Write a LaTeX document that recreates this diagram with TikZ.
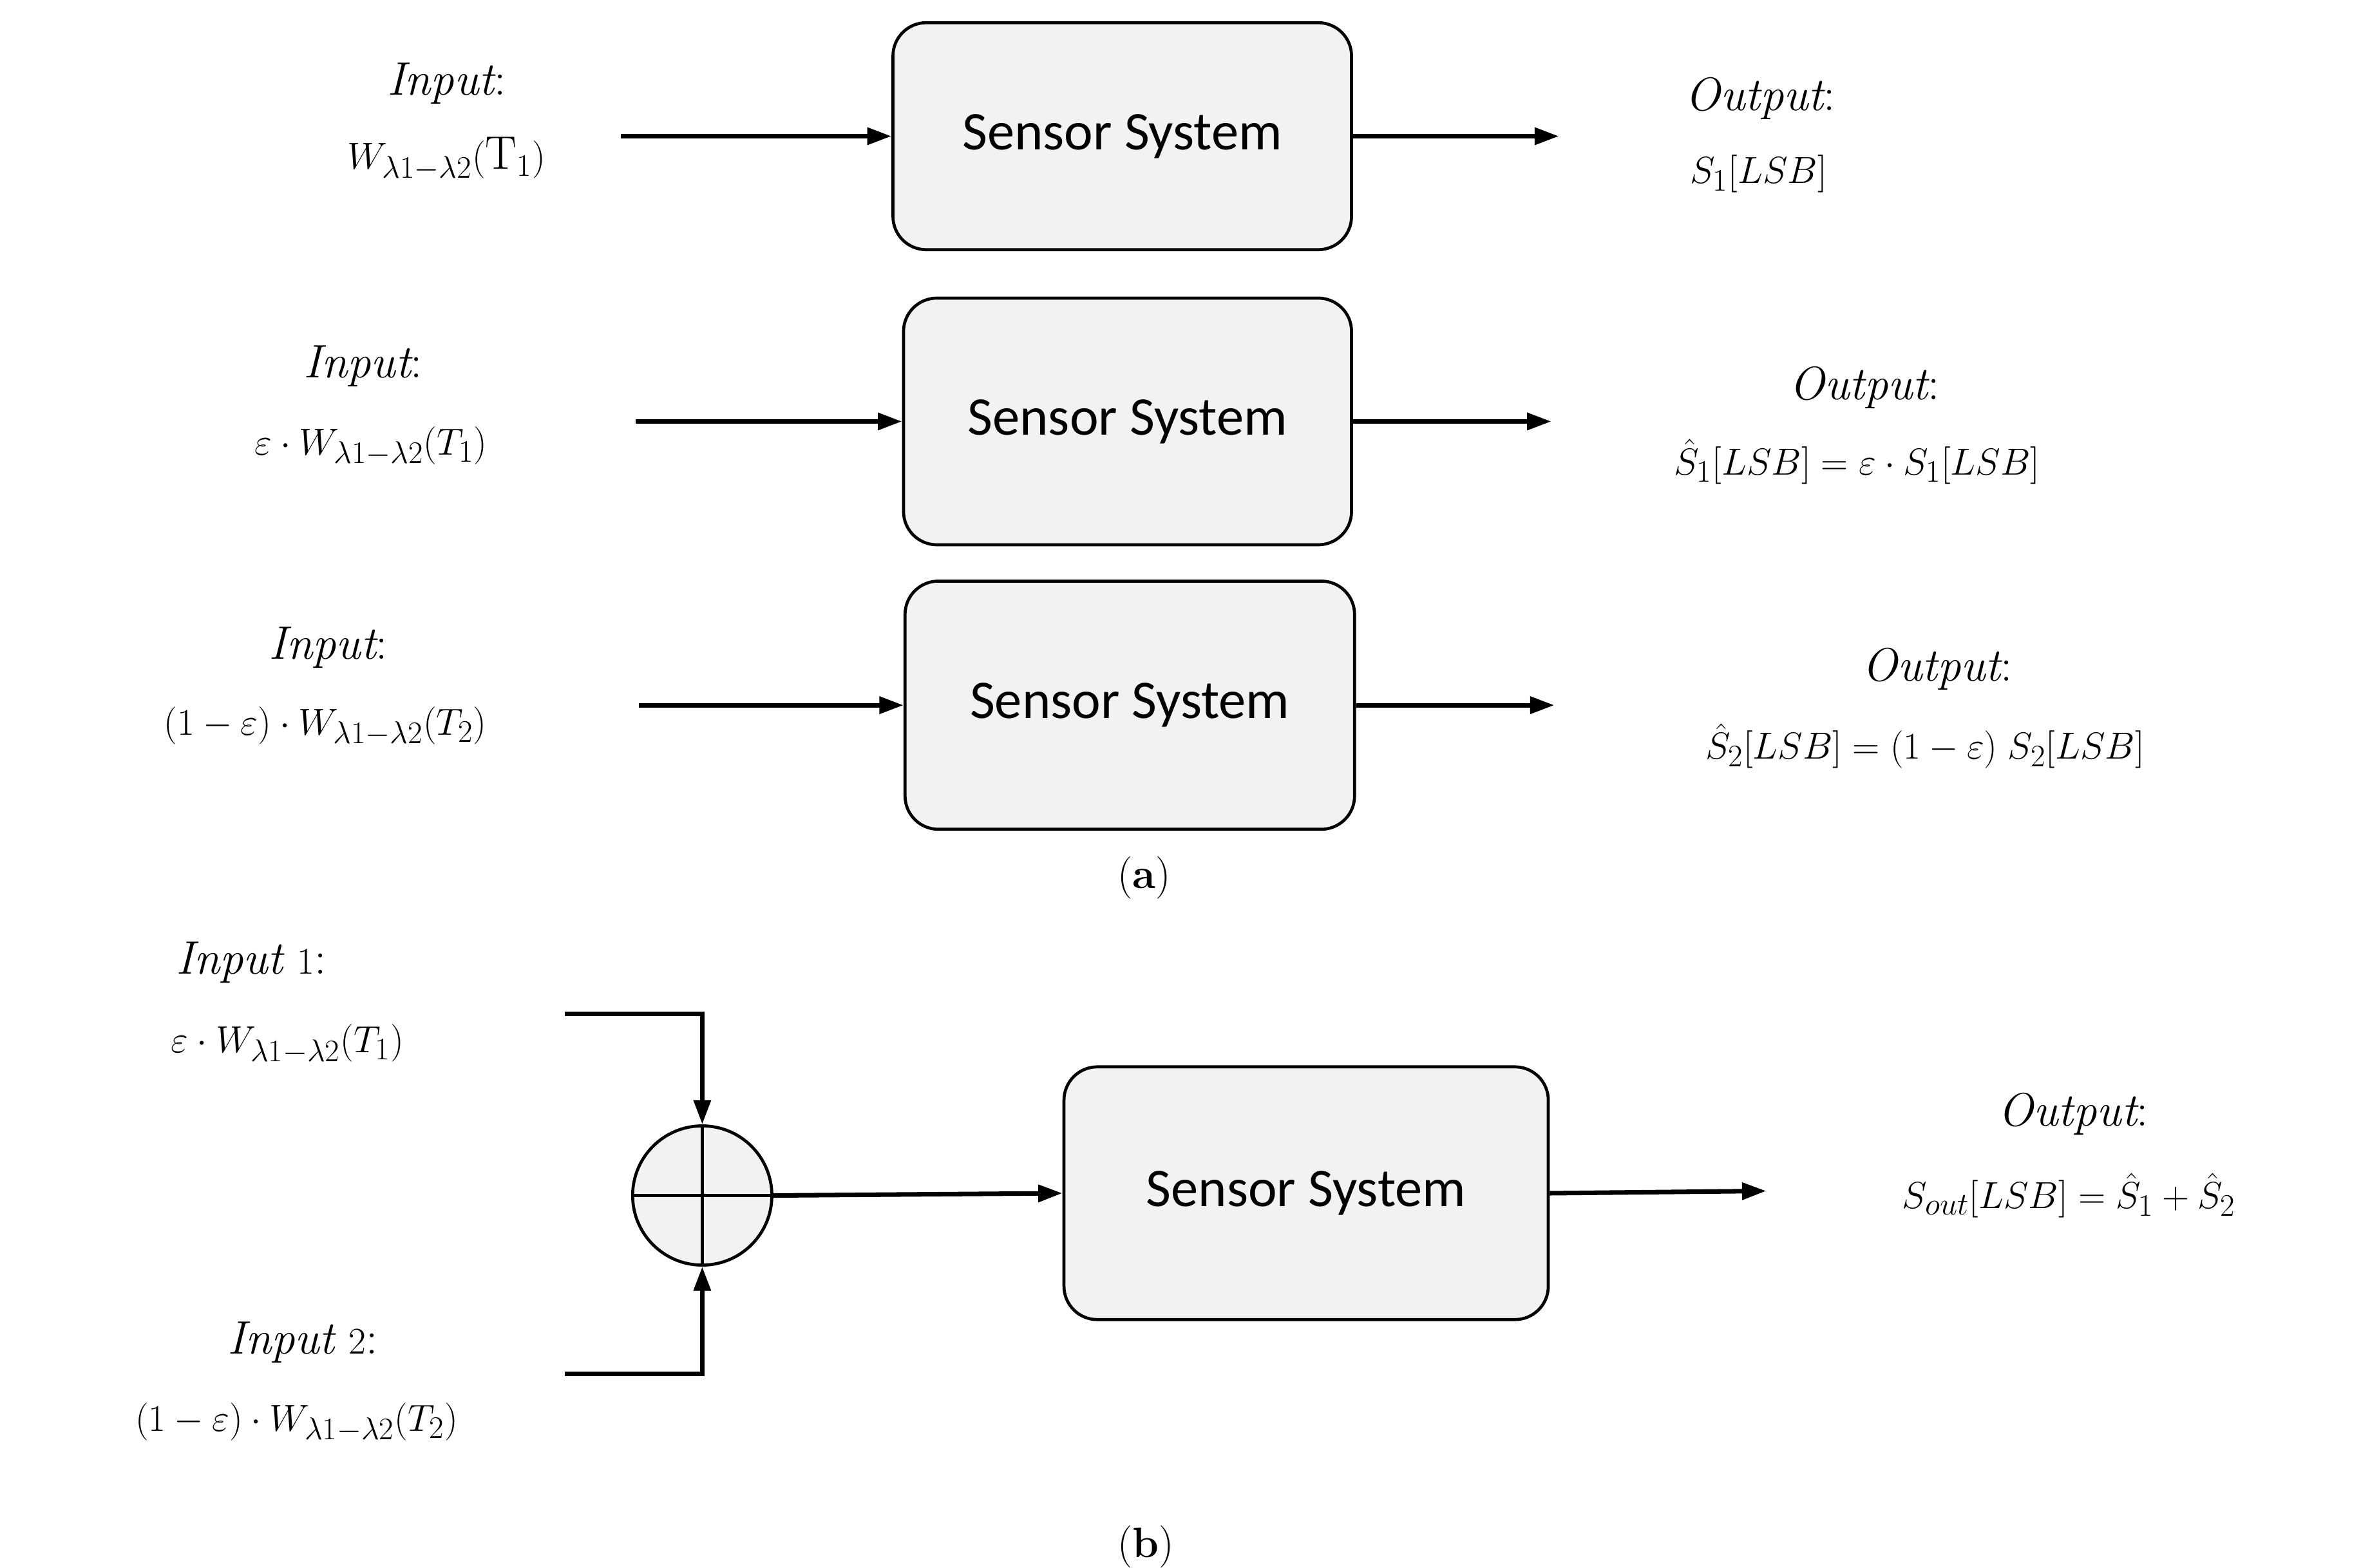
\documentclass[tikz,border=0pt]{standalone}
\usepackage{fontspec}
\usepackage{amsmath}
\newfontfamily\carl{Carlito}
\usetikzlibrary{arrows.meta}
\begin{document}
\begin{tikzpicture}[x=1pt,y=-1pt,
 box/.style={draw,line width=2pt,fill=gray!10,rounded corners=22pt,inner sep=0pt},
 lab/.style={font=\fontsize{31}{36}\selectfont,inner sep=0pt,anchor=center},
 ss/.style={font=\carl\fontsize{36}{40}\selectfont},
 ar/.style={line width=3pt,-{Triangle[length=16pt,width=11pt]}},
 ln/.style={line width=3pt}]
\useasboundingbox (0,0) rectangle (1560,1036);
% row 1
\node[box,minimum width=303pt,minimum height=150pt] (b1) at (741.5,90) {};
\node[ss] at (b1) {Sensor System};
\coordinate (i1) at (410,90);\coordinate (o1) at (1030,90);
\draw[ar] (i1) -- (b1.west);\draw[ar] (b1.east) -- (o1);
\node[lab] (t1a) at (295,55) {$\mathit{Input}$:};
\node[lab] (t1b) at (295,105) {$W_{\lambda1-\lambda2}(\mathrm{T}_1)$};
\node[lab] (u1a) at (1163,65) {$\mathit{Output}$:};
\node[lab] (u1b) at (1162,115) {$S_1[LSB]$};
% row 2
\node[box,minimum width=296pt,minimum height=163pt] (b2) at (745,278.5) {};
\node[ss] at (b2) {Sensor System};
\coordinate (i2) at (420,278.5);\coordinate (o2) at (1025,278.5);
\draw[ar] (i2) -- (b2.west);\draw[ar] (b2.east) -- (o2);
\node[lab] at (240,242) {$\mathit{Input}$:};
\node[lab] at (245,295) {$\varepsilon\cdot W_{\lambda1-\lambda2}(T_1)$};
\node[lab] at (1232,256) {$\mathit{Output}$:};
\node[lab] at (1227,305) {$\hat S_1[LSB]=\varepsilon\cdot S_1[LSB]$};
% row 3
\node[box,minimum width=297pt,minimum height=164pt] (b3) at (746.5,466) {};
\node[ss] at (b3) {Sensor System};
\coordinate (i3) at (422,466);\coordinate (o3) at (1027,466);
\draw[ar] (i3) -- (b3.west);\draw[ar] (b3.east) -- (o3);
\node[lab] at (217,428) {$\mathit{Input}$:};
\node[lab] at (215,480) {$(1-\varepsilon)\cdot W_{\lambda1-\lambda2}(T_2)$};
\node[lab] at (1280,442) {$\mathit{Output}$:};
\node[lab] at (1272,493) {$\hat S_2[LSB]=(1-\varepsilon)\;S_2[LSB]$};
\node[lab,font=\fontsize{28}{32}\selectfont] at (756,580) {(\textbf{a})};
% part b
\node[box,minimum width=320pt,minimum height=167pt] (b4) at (863,788.5) {};
\node[ss] at (b4) {Sensor System};
\node[draw,line width=2pt,fill=gray!10,circle,minimum size=92pt,inner sep=0pt] (c) at (464,790) {};
\draw[line width=2pt] (c.north) -- (c.south) (c.west) -- (c.east);
\coordinate (s1) at (373,670);\coordinate (s2) at (373,908);
\draw[ar] (s1) -| (c.north);
\draw[ar] (s2) -| (c.south);
\draw[ar] (c.east) -- (b4.west);
\coordinate (o4) at (1167,787);
\draw[ar] (b4.east) -- (o4);
\node[lab] at (166,636) {$\mathit{Input}\ 1$:};
\node[lab] at (190,690) {$\varepsilon\cdot W_{\lambda1-\lambda2}(T_1)$};
\node[lab] at (200,887) {$\mathit{Input}\ 2$:};
\node[lab] at (196,940) {$(1-\varepsilon)\cdot W_{\lambda1-\lambda2}(T_2)$};
\node[lab] at (1370,736) {$\mathit{Output}$:};
\node[lab] at (1367,790) {$S_{out}[LSB]=\hat S_1+\hat S_2$};
\node[lab,font=\fontsize{28}{32}\selectfont] at (757,1022) {(\textbf{b})};
\end{tikzpicture}
\end{document}
